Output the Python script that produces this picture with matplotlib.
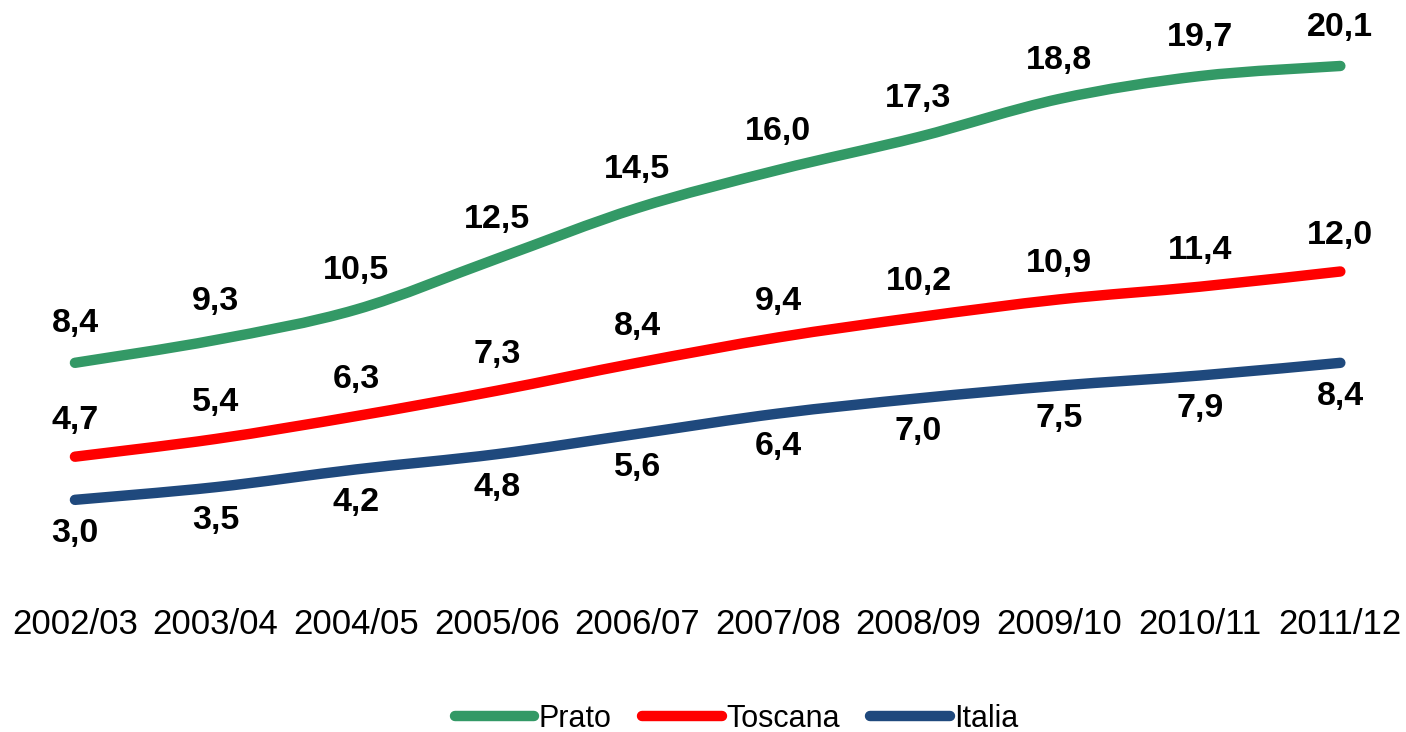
import numpy as np
import matplotlib.pyplot as plt
from matplotlib.path import Path
from matplotlib.patches import PathPatch
from matplotlib.lines import Line2D

plt.rcParams['font.family'] = ['Liberation Sans', 'DejaVu Sans']

years = ['2002/03', '2003/04', '2004/05', '2005/06', '2006/07',
         '2007/08', '2008/09', '2009/10', '2010/11', '2011/12']
prato = [8.4, 9.3, 10.5, 12.5, 14.5, 16.0, 17.3, 18.8, 19.7, 20.1]
toscana = [4.7, 5.4, 6.3, 7.3, 8.4, 9.4, 10.2, 10.9, 11.4, 12.0]
italia = [3.0, 3.5, 4.2, 4.8, 5.6, 6.4, 7.0, 7.5, 7.9, 8.4]

series = [('Prato', prato, '#339966', 28),
          ('Toscana', toscana, '#ff0000', 26),
          ('Italia', italia, '#1f497d', -24)]


def smooth_path(xs, ys):
    # Excel-like smoothed line: Catmull-Rom converted to cubic Bezier
    pts = np.column_stack([xs, ys]).astype(float)
    n = len(pts)
    verts = [pts[0]]
    codes = [Path.MOVETO]
    for i in range(n - 1):
        p0 = pts[max(i - 1, 0)]
        p1 = pts[i]
        p2 = pts[i + 1]
        p3 = pts[min(i + 2, n - 1)]
        c1 = p1 + (p2 - p0) / 6.0
        c2 = p2 - (p3 - p1) / 6.0
        verts += [c1, c2, p2]
        codes += [Path.CURVE4] * 3
    return Path(verts, codes)


fig = plt.figure(figsize=(14.06, 7.32), dpi=100)
ax = fig.add_axes([0, 0, 1, 1])
ax.set_xlim(-0.533, 9.467)
ax.set_ylim(-6.15, 22.7)
ax.axis('off')

x = np.arange(len(years))
handles = []
for name, vals, color, off in series:
    patch = PathPatch(smooth_path(x, vals), fill=False, edgecolor=color,
                      lw=7.5, capstyle='round', joinstyle='round')
    ax.add_patch(patch)
    for xi, v in zip(x, vals):
        ax.annotate(f'{v:.1f}'.replace('.', ','), (xi, v), xytext=(0, off),
                    textcoords='offset points', ha='center', va='center',
                    fontsize=24.5, fontweight='bold', color='black')
    handles.append(Line2D([0], [0], color=color, lw=7.5, solid_capstyle='round'))

for xi, lab in zip(x, years):
    ax.text(xi, -1.93, lab, ha='center', va='center', fontsize=25)

fig.legend(handles, [s[0] for s in series], loc='center',
           bbox_to_anchor=(0.524, 0.018), ncol=3, frameon=False, fontsize=22,
           handlelength=2.6, handletextpad=0.15, columnspacing=1.0)

fig.savefig('out.png', dpi=100)
